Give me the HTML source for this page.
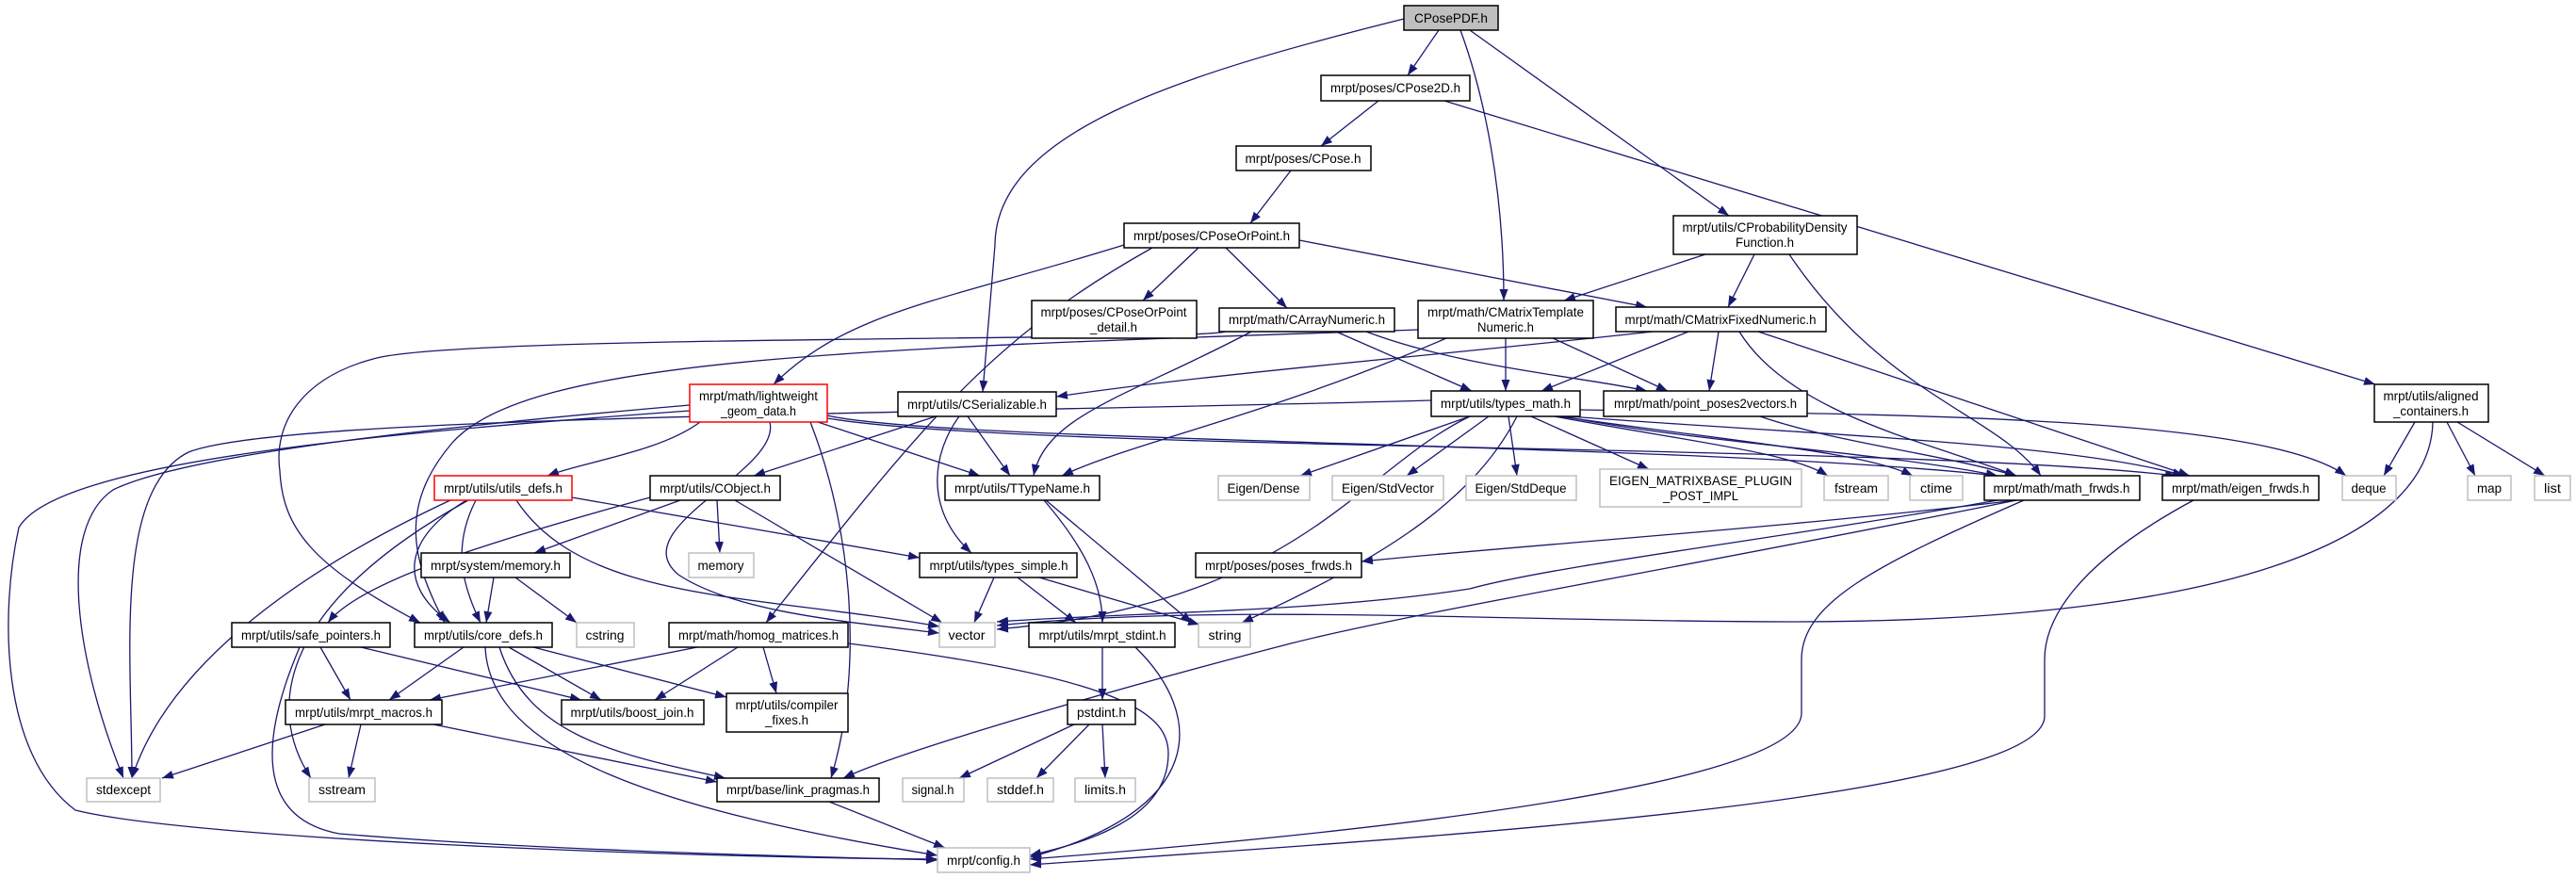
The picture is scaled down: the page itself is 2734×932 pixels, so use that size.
<!DOCTYPE html>
<html><head><meta charset="utf-8"><style>
html,body{margin:0;padding:0;background:#fff;}
svg{display:block;}
text{font-family:"Liberation Sans",sans-serif;font-size:14px;fill:#000;text-anchor:middle;}
.n{fill:#fff;stroke:#000;stroke-width:1.5;}
.g{fill:#fff;stroke:#bfbfbf;stroke-width:1.5;}
.r{fill:#fff;stroke:#ff0000;stroke-width:1.5;}
.e path{fill:none;stroke:#191970;stroke-width:1.3;marker-end:url(#a);}
</style></head><body>
<svg width="2734" height="932" viewBox="0 0 2734 932" xmlns="http://www.w3.org/2000/svg">
<defs><marker id="a" markerUnits="userSpaceOnUse" markerWidth="13" markerHeight="9" refX="12" refY="4.5" orient="auto"><path d="M0,0 L12,4.5 L0,9 z" fill="#191970"/></marker></defs>
<g class="e">
<path d="M1527,32 L1494,80"/>
<path d="M1490,20 C1250,80 1057,140 1056,260 L1043,416"/>
<path d="M1550,32 C1575,100 1596,200 1596,319"/>
<path d="M1560,32 L1835,229"/>
<path d="M1463,107 L1402,155"/>
<path d="M1533,107 L2521,408"/>
<path d="M1370,181 L1327,237"/>
<path d="M1193,260 C1000,320 900,330 821,408"/>
<path d="M1223,263 C1050,360 980,450 813,661"/>
<path d="M1272,263 L1213,319"/>
<path d="M1301,263 L1366,327"/>
<path d="M1379,255 L1748,326"/>
<path d="M1810,270 L1660,319"/>
<path d="M1862,270 L1834,326"/>
<path d="M1899,270 C2000,420 2120,440 2166,505"/>
<path d="M1598,359 L1598,415"/>
<path d="M1648,359 L1770,415"/>
<path d="M1535,359 C1350,440 1200,470 1127,505"/>
<path d="M1418,352 L1562,415"/>
<path d="M1450,352 C1550,390 1680,400 1748,415"/>
<path d="M1328,352 C1200,420 1110,440 1097,505"/>
<path d="M1300,352 C1276,362 500,355 400,380 C320,400 290,450 297,500 C300,560 330,600 446,661"/>
<path d="M1505,350 C900,370 560,380 480,470 C420,540 440,600 472,661"/>
<path d="M1754,352 C1500,380 1300,395 1121,421"/>
<path d="M1792,352 L1636,415"/>
<path d="M1824,352 L1814,415"/>
<path d="M1846,352 C1900,440 2050,470 2140,505"/>
<path d="M1866,352 L2324,505"/>
<path d="M743,448 C700,480 620,490 581,505"/>
<path d="M868,448 L1040,505"/>
<path d="M817,448 C830,500 660,560 720,610 C780,650 900,660 997,672"/>
<path d="M732,430 C500,450 200,480 120,520 C60,560 80,700 131,826"/>
<path d="M732,436 C400,460 60,490 20,560 C0,650 0,800 80,860 C200,890 700,910 995,912"/>
<path d="M860,448 C900,550 920,700 882,826"/>
<path d="M878,441 C1000,470 1800,470 2120,505"/>
<path d="M878,444 C1100,480 2000,470 2310,505"/>
<path d="M993,442 L800,505"/>
<path d="M1027,442 L1072,505"/>
<path d="M1018,442 C990,480 980,540 1031,587"/>
<path d="M1560,442 L1380,505"/>
<path d="M1580,442 L1493,505"/>
<path d="M1601,442 L1610,505"/>
<path d="M1625,442 L1750,498"/>
<path d="M1650,442 C1800,470 1900,480 1940,505"/>
<path d="M1655,442 C1850,470 1980,480 2030,505"/>
<path d="M1660,442 C1800,470 2000,480 2120,505"/>
<path d="M1665,442 C1900,460 2200,470 2318,505"/>
<path d="M1677,435 C2000,440 2400,440 2490,505"/>
<path d="M1560,442 C1440,500 1380,640 1058,668"/>
<path d="M1519,425 C1000,440 300,440 200,480 C120,520 140,700 140,826"/>
<path d="M1610,442 C1560,540 1450,600 1318,661"/>
<path d="M1868,442 C1950,470 2050,480 2140,505"/>
<path d="M2563,448 L2530,505"/>
<path d="M2597,448 L2627,505"/>
<path d="M2608,448 L2701,505"/>
<path d="M2582,448 C2580,560 2400,660 1900,660 C1600,660 1300,640 1058,664"/>
<path d="M505,531 C480,580 490,620 510,661"/>
<path d="M495,531 C430,570 420,620 478,661"/>
<path d="M607,528 L976,592"/>
<path d="M548,531 C620,640 800,630 997,665"/>
<path d="M478,531 C330,600 180,700 140,826"/>
<path d="M497,531 C300,640 280,750 330,826"/>
<path d="M761,531 L764,587"/>
<path d="M780,531 L1000,661"/>
<path d="M722,531 L567,587"/>
<path d="M690,528 C500,580 380,620 348,661"/>
<path d="M1108,531 C1150,580 1170,620 1170,661"/>
<path d="M1110,531 L1265,661"/>
<path d="M1055,613 L1034,661"/>
<path d="M1080,613 L1142,661"/>
<path d="M1103,613 L1273,663"/>
<path d="M524,613 L516,661"/>
<path d="M547,613 L612,661"/>
<path d="M340,687 L372,743"/>
<path d="M383,687 L617,743"/>
<path d="M318,687 C270,800 280,870 360,885 C600,905 900,910 995,913"/>
<path d="M492,687 L413,743"/>
<path d="M540,687 L638,743"/>
<path d="M566,687 L771,740"/>
<path d="M530,687 C560,780 650,800 770,826"/>
<path d="M515,687 C520,800 700,860 995,908"/>
<path d="M740,687 L456,743"/>
<path d="M783,687 L695,743"/>
<path d="M810,687 L824,736"/>
<path d="M900,683 C1200,720 1240,760 1240,800 C1240,870 1150,895 1093,908"/>
<path d="M345,769 L172,826"/>
<path d="M383,769 L370,826"/>
<path d="M460,769 L761,830"/>
<path d="M1170,687 L1170,743"/>
<path d="M1205,687 C1280,760 1280,860 1093,910"/>
<path d="M1140,769 L1018,826"/>
<path d="M1156,769 L1100,826"/>
<path d="M1170,769 L1173,826"/>
<path d="M880,851 L1003,900"/>
<path d="M2140,531 C1900,560 1600,580 1445,596"/>
<path d="M2120,531 C1900,570 1650,600 1560,625 C1400,650 1200,650 1058,660"/>
<path d="M2140,531 C1800,600 1500,650 1370,683 C1150,740 950,800 895,826"/>
<path d="M2148,531 C1990,600 1912,640 1912,700 L1912,757 C1912,830 1500,880 1093,912"/>
<path d="M2328,531 C2200,600 2170,660 2170,700 L2170,760 C2170,850 1500,890 1093,918"/>
</g>
<g>
<rect x="1490" y="6" width="100" height="26" fill="#bfbfbf" stroke="#000" stroke-width="1.5"/><text x="1540" y="24" textLength="78" lengthAdjust="spacingAndGlyphs">CPosePDF.h</text>
<rect class="n" x="1402" y="80" width="158" height="27"/><text x="1481" y="98" textLength="138" lengthAdjust="spacingAndGlyphs">mrpt/poses/CPose2D.h</text>
<rect class="n" x="1312" y="155" width="143" height="26"/><text x="1383" y="173" textLength="123" lengthAdjust="spacingAndGlyphs">mrpt/poses/CPose.h</text>
<rect class="n" x="1193" y="237" width="186" height="26"/><text x="1286" y="255" textLength="166" lengthAdjust="spacingAndGlyphs">mrpt/poses/CPoseOrPoint.h</text>
<rect class="n" x="1776" y="229" width="195" height="41"/><text x="1873" y="246" textLength="175" lengthAdjust="spacingAndGlyphs">mrpt/utils/CProbabilityDensity</text><text x="1873" y="262" textLength="62" lengthAdjust="spacingAndGlyphs">Function.h</text>
<rect class="n" x="1095" y="319" width="175" height="40"/><text x="1182" y="336" textLength="155" lengthAdjust="spacingAndGlyphs">mrpt/poses/CPoseOrPoint</text><text x="1182" y="352" textLength="50" lengthAdjust="spacingAndGlyphs">_detail.h</text>
<rect class="n" x="1294" y="327" width="186" height="25"/><text x="1387" y="344" textLength="166" lengthAdjust="spacingAndGlyphs">mrpt/math/CArrayNumeric.h</text>
<rect class="n" x="1505" y="319" width="186" height="40"/><text x="1598" y="336" textLength="166" lengthAdjust="spacingAndGlyphs">mrpt/math/CMatrixTemplate</text><text x="1598" y="352" textLength="60" lengthAdjust="spacingAndGlyphs">Numeric.h</text>
<rect class="n" x="1715" y="326" width="223" height="26"/><text x="1826" y="344" textLength="203" lengthAdjust="spacingAndGlyphs">mrpt/math/CMatrixFixedNumeric.h</text>
<rect class="r" x="732" y="408" width="146" height="40"/><text x="805" y="425" textLength="126" lengthAdjust="spacingAndGlyphs">mrpt/math/lightweight</text><text x="805" y="441" textLength="80" lengthAdjust="spacingAndGlyphs">_geom_data.h</text>
<rect class="n" x="953" y="416" width="168" height="26"/><text x="1037" y="434" textLength="148" lengthAdjust="spacingAndGlyphs">mrpt/utils/CSerializable.h</text>
<rect class="n" x="1519" y="415" width="158" height="27"/><text x="1598" y="433" textLength="138" lengthAdjust="spacingAndGlyphs">mrpt/utils/types_math.h</text>
<rect class="n" x="1702" y="415" width="216" height="27"/><text x="1810" y="433" textLength="194" lengthAdjust="spacingAndGlyphs">mrpt/math/point_poses2vectors.h</text>
<rect class="n" x="2520" y="408" width="121" height="40"/><text x="2580" y="425" textLength="101" lengthAdjust="spacingAndGlyphs">mrpt/utils/aligned</text><text x="2580" y="441" textLength="80" lengthAdjust="spacingAndGlyphs">_containers.h</text>
<rect class="r" x="461" y="505" width="146" height="26"/><text x="534" y="523" textLength="126" lengthAdjust="spacingAndGlyphs">mrpt/utils/utils_defs.h</text>
<rect class="n" x="690" y="505" width="138" height="26"/><text x="759" y="523" textLength="118" lengthAdjust="spacingAndGlyphs">mrpt/utils/CObject.h</text>
<rect class="n" x="1003" y="505" width="164" height="26"/><text x="1085" y="523" textLength="144" lengthAdjust="spacingAndGlyphs">mrpt/utils/TTypeName.h</text>
<rect class="g" x="1293" y="505" width="97" height="26"/><text x="1341" y="523" textLength="77" lengthAdjust="spacingAndGlyphs">Eigen/Dense</text>
<rect class="g" x="1414" y="505" width="118" height="26"/><text x="1473" y="523" textLength="98" lengthAdjust="spacingAndGlyphs">Eigen/StdVector</text>
<rect class="g" x="1556" y="505" width="117" height="26"/><text x="1614" y="523" textLength="97" lengthAdjust="spacingAndGlyphs">Eigen/StdDeque</text>
<rect class="g" x="1698" y="498" width="214" height="40"/><text x="1805" y="515" textLength="194" lengthAdjust="spacingAndGlyphs">EIGEN_MATRIXBASE_PLUGIN</text><text x="1805" y="531" textLength="80" lengthAdjust="spacingAndGlyphs">_POST_IMPL</text>
<rect class="g" x="1936" y="505" width="68" height="26"/><text x="1970" y="523" textLength="46" lengthAdjust="spacingAndGlyphs">fstream</text>
<rect class="g" x="2027" y="505" width="56" height="26"/><text x="2055" y="523" textLength="34" lengthAdjust="spacingAndGlyphs">ctime</text>
<rect class="n" x="2106" y="505" width="165" height="26"/><text x="2188" y="523" textLength="145" lengthAdjust="spacingAndGlyphs">mrpt/math/math_frwds.h</text>
<rect class="n" x="2295" y="505" width="166" height="26"/><text x="2378" y="523" textLength="146" lengthAdjust="spacingAndGlyphs">mrpt/math/eigen_frwds.h</text>
<rect class="g" x="2486" y="505" width="57" height="26"/><text x="2514" y="523" textLength="37" lengthAdjust="spacingAndGlyphs">deque</text>
<rect class="g" x="2619" y="505" width="46" height="26"/><text x="2642" y="523" textLength="26" lengthAdjust="spacingAndGlyphs">map</text>
<rect class="g" x="2690" y="505" width="38" height="26"/><text x="2709" y="523" textLength="18" lengthAdjust="spacingAndGlyphs">list</text>
<rect class="n" x="447" y="587" width="158" height="26"/><text x="526" y="605" textLength="138" lengthAdjust="spacingAndGlyphs">mrpt/system/memory.h</text>
<rect class="g" x="731" y="587" width="69" height="26"/><text x="765" y="605" textLength="49" lengthAdjust="spacingAndGlyphs">memory</text>
<rect class="n" x="976" y="587" width="167" height="26"/><text x="1060" y="605" textLength="147" lengthAdjust="spacingAndGlyphs">mrpt/utils/types_simple.h</text>
<rect class="n" x="1269" y="587" width="176" height="26"/><text x="1357" y="605" textLength="156" lengthAdjust="spacingAndGlyphs">mrpt/poses/poses_frwds.h</text>
<rect class="n" x="246" y="661" width="168" height="26"/><text x="330" y="679" textLength="148" lengthAdjust="spacingAndGlyphs">mrpt/utils/safe_pointers.h</text>
<rect class="n" x="440" y="661" width="146" height="26"/><text x="513" y="679" textLength="126" lengthAdjust="spacingAndGlyphs">mrpt/utils/core_defs.h</text>
<rect class="g" x="612" y="661" width="61" height="26"/><text x="642" y="679" textLength="41" lengthAdjust="spacingAndGlyphs">cstring</text>
<rect class="n" x="710" y="661" width="190" height="26"/><text x="805" y="679" textLength="170" lengthAdjust="spacingAndGlyphs">mrpt/math/homog_matrices.h</text>
<rect class="g" x="997" y="661" width="59" height="26"/><text x="1026" y="679" textLength="39" lengthAdjust="spacingAndGlyphs">vector</text>
<rect class="n" x="1092" y="661" width="155" height="26"/><text x="1170" y="679" textLength="135" lengthAdjust="spacingAndGlyphs">mrpt/utils/mrpt_stdint.h</text>
<rect class="g" x="1272" y="661" width="55" height="26"/><text x="1300" y="679" textLength="35" lengthAdjust="spacingAndGlyphs">string</text>
<rect class="n" x="303" y="743" width="166" height="26"/><text x="386" y="761" textLength="146" lengthAdjust="spacingAndGlyphs">mrpt/utils/mrpt_macros.h</text>
<rect class="n" x="596" y="743" width="151" height="26"/><text x="671" y="761" textLength="131" lengthAdjust="spacingAndGlyphs">mrpt/utils/boost_join.h</text>
<rect class="n" x="771" y="736" width="129" height="41"/><text x="835" y="753" textLength="109" lengthAdjust="spacingAndGlyphs">mrpt/utils/compiler</text><text x="835" y="769" textLength="46" lengthAdjust="spacingAndGlyphs">_fixes.h</text>
<rect class="n" x="1133" y="743" width="72" height="26"/><text x="1169" y="761" textLength="52" lengthAdjust="spacingAndGlyphs">pstdint.h</text>
<rect class="g" x="92" y="826" width="78" height="25"/><text x="131" y="843" textLength="58" lengthAdjust="spacingAndGlyphs">stdexcept</text>
<rect class="g" x="328" y="826" width="70" height="25"/><text x="363" y="843" textLength="50" lengthAdjust="spacingAndGlyphs">sstream</text>
<rect class="n" x="761" y="826" width="172" height="25"/><text x="847" y="843" textLength="152" lengthAdjust="spacingAndGlyphs">mrpt/base/link_pragmas.h</text>
<rect class="g" x="958" y="826" width="65" height="25"/><text x="990" y="843" textLength="45" lengthAdjust="spacingAndGlyphs">signal.h</text>
<rect class="g" x="1048" y="826" width="70" height="25"/><text x="1083" y="843" textLength="50" lengthAdjust="spacingAndGlyphs">stddef.h</text>
<rect class="g" x="1141" y="826" width="64" height="25"/><text x="1173" y="843" textLength="44" lengthAdjust="spacingAndGlyphs">limits.h</text>
<rect class="g" x="995" y="900" width="98" height="26"/><text x="1044" y="918" textLength="78" lengthAdjust="spacingAndGlyphs">mrpt/config.h</text>
</g>
</svg>
</body></html>
